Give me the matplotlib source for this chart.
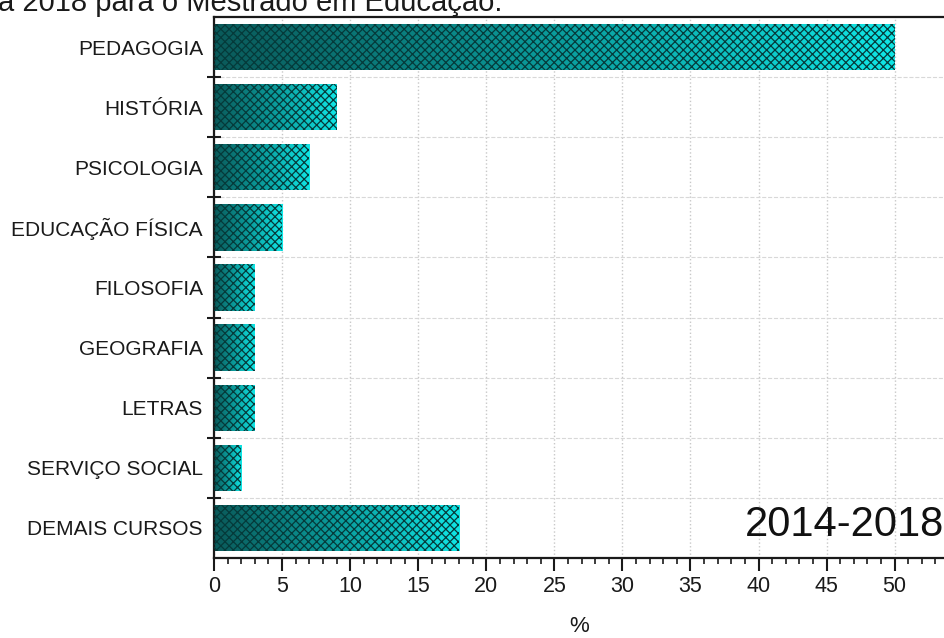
import numpy as np
import matplotlib.pyplot as plt
from matplotlib.colors import LinearSegmentedColormap
from matplotlib.ticker import MultipleLocator, FixedLocator

cursos = ["PEDAGOGIA", "HISTÓRIA", "PSICOLOGIA", "EDUCAÇÃO FÍSICA", "FILOSOFIA",
          "GEOGRAFIA", "LETRAS", "SERVIÇO SOCIAL", "DEMAIS CURSOS"]
percent = [50, 9, 7, 5, 3, 3, 3, 2, 18]
periodo = "2014-2018"

plt.rcParams.update({
    "font.family": ["Liberation Sans", "DejaVu Sans"],
    "hatch.linewidth": 0.9,
})

DARK = "#0a5a5a"
CYAN = "#10e6e6"
HATCH = "#053a3a"
grad = LinearSegmentedColormap.from_list("tealgrad", [DARK, "#0a9c9c", CYAN])

fig = plt.figure(figsize=(9.45, 6.38), dpi=100)
ax = fig.add_axes([0.2265, 0.1254, 0.7735, 0.848])

xmax = 53.7
h = 0.77
ypos = np.arange(len(cursos))
ramp = np.linspace(0, 1, 256).reshape(1, -1)

for y, v in zip(ypos, percent):
    bar = ax.barh(y, v, height=h, color="none", linewidth=0)[0]
    im = ax.imshow(ramp, cmap=grad, aspect="auto", interpolation="bilinear",
                   extent=[0, v, y + h / 2, y - h / 2], zorder=2)
    im.set_clip_path(bar)
    ax.barh(y, v, height=h, facecolor="none", edgecolor=HATCH, hatch="xxxx",
            linewidth=0, zorder=3)

ax.set_xlim(0, xmax)
ax.set_ylim(len(cursos) - 0.5, -0.5)

ax.xaxis.set_major_locator(MultipleLocator(5))
ax.xaxis.set_minor_locator(MultipleLocator(1))
ax.tick_params(axis="x", which="major", direction="out", length=9, width=1.5,
               labelsize=15.5, pad=4, colors="#1a1a1a")
ax.tick_params(axis="x", which="minor", direction="out", length=4.5, width=1.2,
               color="#1a1a1a")

ax.yaxis.set_major_locator(FixedLocator(ypos[:-1] + 0.5))
ax.yaxis.set_minor_locator(FixedLocator(ypos))
ax.yaxis.set_major_formatter(plt.NullFormatter())
ax.yaxis.set_minor_formatter(plt.FixedFormatter(cursos))
ax.tick_params(axis="y", which="major", direction="inout", length=10, width=1.5,
               color="#1a1a1a")
ax.tick_params(axis="y", which="minor", length=0, labelsize=15, pad=8,
               labelcolor="#1a1a1a")

ax.grid(axis="x", which="major", color="#c8c8c8", linestyle=":", linewidth=1.0, zorder=0)
ax.grid(axis="y", which="major", color="#d8d8d8", linestyle="--", linewidth=0.8, zorder=0)
ax.set_axisbelow(True)

for side in ["left", "bottom", "top"]:
    ax.spines[side].set_linewidth(1.6)
    ax.spines[side].set_color("#1a1a1a")
ax.spines["right"].set_visible(False)

ax.set_xlabel("%", fontsize=16, labelpad=14, color="#1a1a1a")

ax.text(xmax - 0.1, 7.95, periodo, ha="right", va="center", fontsize=30, color="#111111")

fig.text(-0.002, 1 - 11 / 638, "a 2018 para o Mestrado em Educação.", ha="left",
         va="baseline", fontsize=21, color="#1a1a1a")

fig.savefig("out.png", dpi=100)
